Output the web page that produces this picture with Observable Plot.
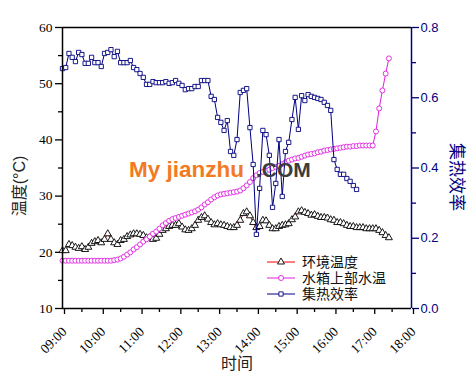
<!DOCTYPE html>
<html><head><meta charset="utf-8">
<script src="https://cdn.jsdelivr.net/npm/d3@7"></script>
<script src="https://cdn.jsdelivr.net/npm/@observablehq/plot@0.6"></script>
<style>
body{margin:0;background:#fff;}
#wrap{position:relative;width:475px;height:387px;overflow:hidden;}
#wrap svg.overlay{position:absolute;left:0;top:0;pointer-events:none;}
</style></head><body><div id="wrap"></div>
<script>
// ---- data ----
const startHour = 9;          // 09:00
const stepMinutes = 5;        // sampling interval
const seriesNames = ["环境温度", "水箱上部水温", "集热效率"];
const ambient = [20.3,20.3,21.4,21.2,20.9,20.7,21.0,20.5,20.9,21.6,
21.9,22.1,21.7,22.3,23.3,22.3,21.7,21.4,22.1,22.3,
22.8,23.1,23.3,23.3,23.2,23.0,22.6,22.6,22.3,22.5,
23.2,23.9,24.2,24.6,24.8,24.8,25.1,24.5,24.0,23.9,
24.2,24.8,25.7,26.2,26.5,25.9,25.3,24.9,25.1,24.9,
24.8,24.6,24.4,24.4,24.8,25.7,26.9,27.2,26.5,25.3,
24.4,24.6,25.7,25.6,24.8,24.2,24.2,24.6,24.8,24.9,
25.1,25.8,26.3,27.2,27.4,27.1,26.9,26.6,26.7,26.4,
26.2,26.2,26.1,25.8,25.7,25.3,25.3,25.1,24.8,24.6,
24.6,24.4,24.4,24.4,24.2,24.2,24.2,24.2,23.9,23.5,
23.0,22.6];
const water = [18.5,18.5,18.5,18.5,18.5,18.5,18.5,18.5,18.5,18.5,
18.5,18.5,18.5,18.5,18.5,18.5,18.6,18.7,18.9,19.2,
19.6,20.0,20.5,20.9,21.4,21.9,22.3,22.8,23.3,23.7,
24.2,24.8,25.2,25.6,25.9,26.1,26.3,26.5,26.7,26.9,
27.1,27.3,27.6,28.0,28.5,28.9,29.4,29.8,30.1,30.3,
30.4,30.5,30.6,30.7,30.8,31.0,31.4,31.9,32.5,33.2,
33.7,34.1,34.3,34.5,34.7,35.0,35.2,35.4,35.7,36.0,
36.3,36.5,36.7,36.8,37.0,37.2,37.4,37.5,37.6,37.8,
37.9,38.1,38.2,38.3,38.4,38.5,38.6,38.7,38.8,38.8,
38.9,38.9,39.0,39.0,39.0,39.0,39.0,41.5,45.6,48.8,
51.8,54.5];
const efficiency = [0.683,0.686,0.726,0.715,0.703,0.729,0.723,0.698,0.698,0.715,
0.700,0.700,0.689,0.726,0.729,0.737,0.717,0.732,0.700,0.700,
0.700,0.706,0.686,0.680,0.669,0.658,0.638,0.638,0.646,0.643,
0.643,0.643,0.646,0.641,0.643,0.649,0.641,0.635,0.623,0.626,
0.626,0.632,0.632,0.649,0.649,0.649,0.604,0.595,0.544,0.530,
0.507,0.535,0.447,0.436,0.481,0.615,0.621,0.626,0.515,0.410,
0.211,0.342,0.507,0.495,0.436,0.288,0.356,0.481,0.319,0.447,
0.473,0.538,0.601,0.510,0.606,0.592,0.609,0.604,0.601,0.598,
0.595,0.587,0.578,0.564,0.424,0.396,0.382,0.382,0.370,0.362,
0.350,0.339];
const xTickLabels = ["09:00","10:00","11:00","12:00","13:00","14:00","15:00","16:00","17:00","18:00"];
const leftTicks = [10,20,30,40,50,60];
const leftMinor = [15,25,35,45,55];
const rightTicks = [0.0,0.2,0.4,0.6,0.8];
const rightMinor = [0.1,0.3,0.5,0.7];
const tempDomain = [10,60];
const effDomain = [0,0.8];

// ---- helpers ----
const navy = "#000080", magenta = "#e020e0", red = "#ff0000";
const hourOf = s => { const [h,m] = s.split(":").map(Number); return h + m/60; };
const tAt = i => startHour + i*stepMinutes/60;
const effToTemp = e => tempDomain[0] + (e - effDomain[0])/(effDomain[1]-effDomain[0])*(tempDomain[1]-tempDomain[0]);
const ambData = ambient.map((v,i)=>({t:tAt(i), v}));
const watData = water.map((v,i)=>({t:tAt(i), v}));
const effData = efficiency.map((v,i)=>({t:tAt(i), v:effToTemp(v)}));
const xMajor = xTickLabels.map(hourOf);
const xMinor = xMajor.slice(0,-1).map(h=>h+0.5);
const serif = "'Liberation Serif','Times New Roman',serif";
const sans = "'Liberation Sans',Arial,sans-serif";
const cjk = "'Liberation Sans','Noto Sans CJK SC',sans-serif";

const plot = Plot.plot({
  width:475, height:387,
  marginLeft:62, marginRight:64, marginTop:27, marginBottom:79,
  x:{domain:[hourOf(xTickLabels[0]), hourOf(xTickLabels[xTickLabels.length-1])], label:null},
  y:{domain:tempDomain, label:null},
  style:{fontFamily:serif, fontSize:"13px", background:"white", color:"black", overflow:"visible"},
  marks:[
    // axes
    Plot.axisY(leftTicks, {anchor:"left", tickSize:7, tickPadding:3, strokeWidth:1.3, label:null, fontSize:13.5}),
    Plot.axisY(leftMinor, {anchor:"left", tickSize:4, strokeWidth:1.3, stroke:"black", fill:"none", label:null}),
    Plot.axisY(rightTicks, {anchor:"right", y:d=>effToTemp(d), tickFormat:d=>d.toFixed(1), tickSize:7, tickPadding:2, strokeWidth:1.3, color:navy, fontFamily:sans, fontSize:13, label:null}),
    Plot.axisY(rightMinor, {anchor:"right", y:d=>effToTemp(d), tickSize:4, strokeWidth:1.3, stroke:navy, fill:"none", label:null}),
    Plot.axisX(xMajor, {anchor:"bottom", tickSize:6, tickPadding:15, dx:2, tickRotate:-45, strokeWidth:1.3, tickFormat:h=>xTickLabels[xMajor.indexOf(h)], label:null, fontSize:13.5}),
    Plot.axisX(xMinor, {anchor:"bottom", tickSize:4, strokeWidth:1.3, stroke:"black", fill:"none", label:null}),
    // series
    Plot.line(ambData, {x:"t", y:"v", stroke:red, strokeWidth:1}),
    Plot.dot(ambData, {x:"t", y:"v", symbol:"triangle", r:2.6, stroke:"black", fill:"white", strokeWidth:0.9}),
    Plot.line(watData, {x:"t", y:"v", stroke:magenta, strokeWidth:1}),
    Plot.dot(watData, {x:"t", y:"v", symbol:"circle", r:2.5, stroke:magenta, fill:"white", strokeWidth:0.9}),
    Plot.line(effData, {x:"t", y:"v", stroke:navy, strokeWidth:1}),
    Plot.dot(effData, {x:"t", y:"v", symbol:"square", r:2.4, stroke:navy, fill:"white", strokeWidth:0.9}),
    // frame
    Plot.ruleY([tempDomain[1]], {stroke:"black", strokeWidth:1.5}),
    Plot.ruleY([tempDomain[0]], {stroke:"black", strokeWidth:1.5}),
    Plot.ruleX([xMajor[0]], {stroke:"black", strokeWidth:1.5}),
    Plot.ruleX([xMajor[xMajor.length-1]], {stroke:navy, strokeWidth:1.5}),
    // titles
    Plot.text(["温度(°C)"], {frameAnchor:"left", dx:-43, dy:18, rotate:-90, textAnchor:"middle", fontSize:16, fontFamily:cjk, fill:"#222"}),
    Plot.text(["集热效率"], {frameAnchor:"right", dx:45, dy:9, rotate:90, textAnchor:"middle", fontSize:17, fontFamily:cjk, fill:navy}),
    Plot.text(["时间"], {frameAnchor:"bottom", dy:60, textAnchor:"middle", fontSize:16, fontFamily:cjk, fill:"#222"})
  ]
});
const wrap = document.getElementById("wrap");
wrap.appendChild(plot);

// ---- overlay: watermark and legend ----
const ov = d3.select(wrap).append("svg").attr("class","overlay").attr("width",475).attr("height",387);
ov.append("text").attr("x",129).attr("y",177).attr("font-family",sans).attr("font-weight","bold")
  .attr("font-size",22.5).attr("fill","#f27a22").text("My jianzhu");
ov.append("text").attr("x",256).attr("y",177).attr("font-family",sans).attr("font-weight","bold")
  .attr("font-size",21).attr("fill","#3c3c3c").text(".COM");

const legendItems = [
  {name:seriesNames[0], line:red, mark:"black", sym:d3.symbolTriangle, size:21},
  {name:seriesNames[1], line:magenta, mark:magenta, sym:d3.symbolCircle, size:20},
  {name:seriesNames[2], line:navy, mark:navy, sym:d3.symbolSquare, size:18}
];
legendItems.forEach((it,k)=>{
  const y = 262 + k*16;
  const g = ov.append("g");
  g.append("line").attr("x1",267).attr("x2",295).attr("y1",y).attr("y2",y).attr("stroke",it.line).attr("stroke-width",1);
  g.append("path").attr("d", d3.symbol(it.sym, it.size)()).attr("transform",`translate(281,${y})`)
    .attr("fill","white").attr("stroke",it.mark).attr("stroke-width",0.9);
  g.append("text").attr("x",302).attr("y",y).attr("dy","0.36em").attr("font-family",cjk)
    .attr("font-size",14).attr("fill","#111").text(it.name);
});
</script>
</body></html>
